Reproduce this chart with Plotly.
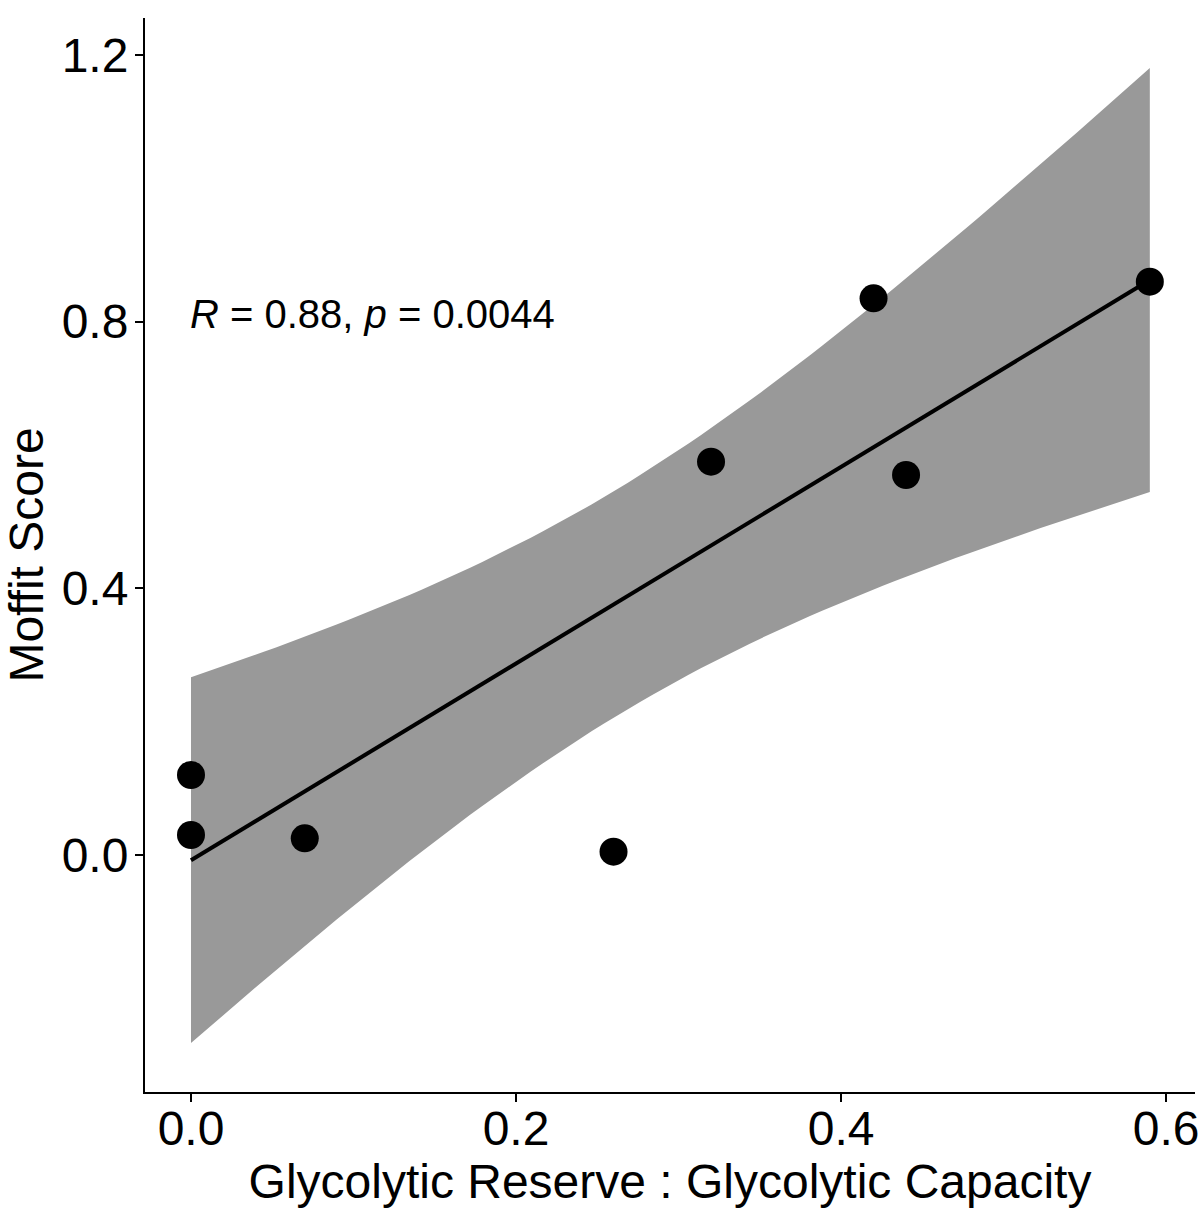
import numpy as np
import plotly.graph_objects as go

# Data
glyco_ratio = [0.0, 0.0, 0.07, 0.26, 0.32, 0.42, 0.44, 0.59]
moffit_score = [0.12, 0.03, 0.025, 0.005, 0.59, 0.835, 0.57, 0.86]
x_ticks = [0.0, 0.2, 0.4, 0.6]
y_ticks = [0.0, 0.4, 0.8, 1.2]
x_tick_text = ["0.0", "0.2", "0.4", "0.6"]
y_tick_text = ["0.0", "0.4", "0.8", "1.2"]
cor_label = "<i>R</i> = 0.88, <i>p</i> = 0.0044"

# Linear fit with 95% confidence band (as geom_smooth(method="lm"))
x = np.array(glyco_ratio)
y = np.array(moffit_score)
n = len(x)
xm, ym = x.mean(), y.mean()
sxx = ((x - xm) ** 2).sum()
slope = ((x - xm) * (y - ym)).sum() / sxx
intercept = ym - slope * xm
resid = y - (intercept + slope * x)
s = np.sqrt((resid ** 2).sum() / (n - 2))
t975 = 2.446912  # t quantile, df = 6
xg = np.linspace(x.min(), x.max(), 80)
fit = intercept + slope * xg
se = s * np.sqrt(1 / n + (xg - xm) ** 2 / sxx)
upper = fit + t975 * se
lower = fit - t975 * se

FONT = "Liberation Sans, Arial, Helvetica, sans-serif"

fig = go.Figure()
fig.add_trace(go.Scatter(
    x=np.concatenate([xg, xg[::-1]]), y=np.concatenate([upper, lower[::-1]]),
    fill="toself", fillcolor="#999999", line=dict(width=0), mode="lines",
    hoverinfo="skip", showlegend=False))
fig.add_trace(go.Scatter(x=xg, y=fit, mode="lines",
                         line=dict(color="black", width=4), showlegend=False))
fig.add_trace(go.Scatter(x=glyco_ratio, y=moffit_score, mode="markers",
                         marker=dict(color="black", size=28), showlegend=False))

fig.add_annotation(x=0.0, y=0.812, xref="x", yref="y", text=cor_label,
                   showarrow=False, xanchor="left", yanchor="middle", xshift=-3,
                   font=dict(family=FONT, size=40, color="black"))

fig.update_layout(
    width=1204, height=1209,
    margin=dict(l=145, r=9, t=18, b=117, autoexpand=False),
    plot_bgcolor="white", paper_bgcolor="white",
    font=dict(family=FONT, color="black"),
    xaxis=dict(range=[-0.0283, 0.6178], tickvals=x_ticks, ticktext=x_tick_text,
               showline=True, linecolor="black", linewidth=2, showgrid=False,
               zeroline=False, ticks="outside", ticklen=8, tickwidth=2,
               tickcolor="black", tickfont=dict(size=48, color="black"),
               ticklabelstandoff=-15, automargin=False,
               title=dict(text="Glycolytic Reserve : Glycolytic Capacity",
                          font=dict(size=48, color="black"), standoff=0)),
    yaxis=dict(range=[-0.3555, 1.2555], tickvals=y_ticks, ticktext=y_tick_text,
               showline=True, linecolor="black", linewidth=2, showgrid=False,
               zeroline=False, ticks="outside", ticklen=8, tickwidth=2,
               tickcolor="black", tickfont=dict(size=48, color="black"),
               ticklabelstandoff=-3, automargin=False,
               title=dict(text="Moffit Score",
                          font=dict(size=48, color="black"), standoff=5)),
)

fig.write_html(
    "out.html",
    config={"displayModeBar": False},
    post_script="document.body.style.margin='0';document.body.style.overflow='hidden';",
)
